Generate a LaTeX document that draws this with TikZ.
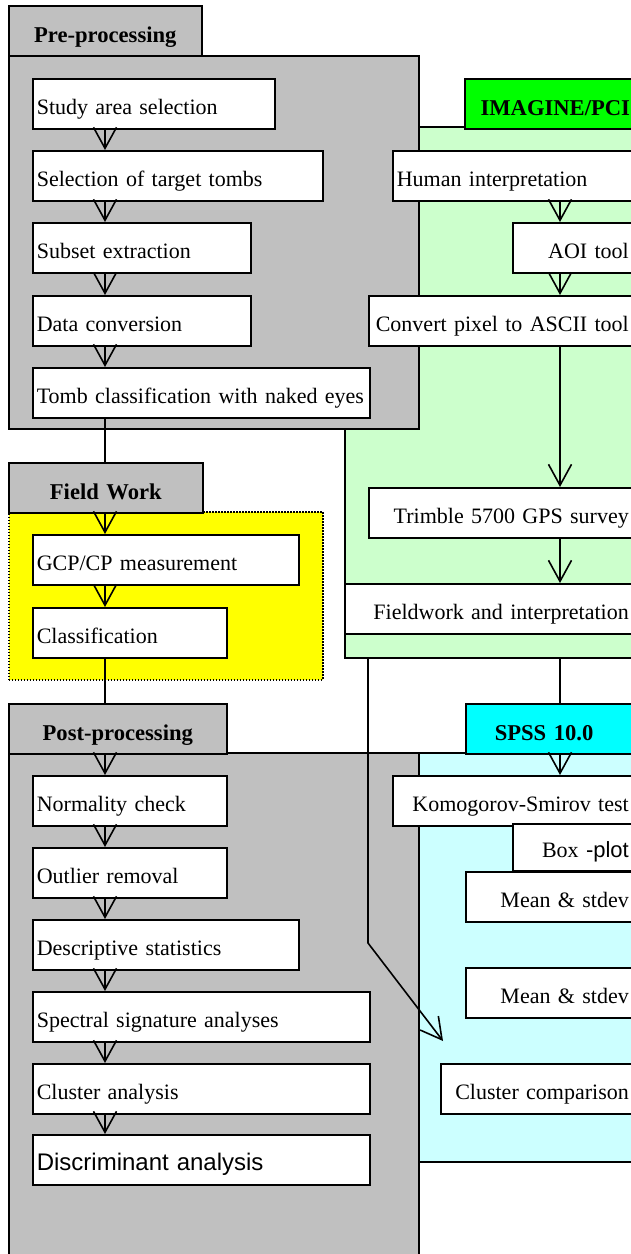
\documentclass[tikz,border=0pt]{standalone}
\usepackage{fontspec}
\setmainfont{Liberation Serif}
\setsansfont{Liberation Sans}
\usetikzlibrary{arrows.meta}

\definecolor{panelgrey}{HTML}{C0C0C0}
\definecolor{imgback}{HTML}{CCFFCC}
\definecolor{imgtab}{HTML}{00FF00}
\definecolor{spssback}{HTML}{CCFFFF}
\definecolor{spsstab}{HTML}{00FFFF}
\definecolor{fieldback}{HTML}{FFFF00}

\begin{document}
\begin{tikzpicture}[x=1pt, y=-1pt, line width=1.6pt,
    font=\fontsize{22}{26}\selectfont,
    area/.style={draw, anchor=north west, inner sep=0pt},
    tab/.style={draw, anchor=north west, font=\fontsize{22.6}{26}\selectfont\bfseries,
        inner xsep=0pt, inner ysep=2pt, minimum height=50pt, text height=26pt, text depth=3pt,
        text width=#1, align=center},
    stepbox/.style={draw, fill=white, anchor=north west, inner xsep=4pt, inner ysep=2pt,
        minimum height=50pt, text height=25pt, text depth=4pt, text width=#1, align=left},
    rbox/.style={stepbox=#1, align=right},
    flow/.style={-{Straight Barb[length=21pt,width=23pt]}}]

\path[use as bounding box] (0,0) rectangle (631,1254);
\clip (0,0) rectangle (631,1254);

% panels
\node[area, fill=imgback, minimum width=360pt, minimum height=531pt] (imgArea) at (344,126) {};
\node[area, fill=spssback, minimum width=300pt, minimum height=409pt] (spssArea) at (400,752) {};
\node[tab=181pt, fill=imgtab] (imgTab) at (464,78) {IMAGINE/PCI};
\node[tab=140pt, fill=spsstab, align=left, inner xsep=29pt] (spssTab) at (465,703) {SPSS 10.0};
\node[area, fill=panelgrey, minimum width=410pt, minimum height=373pt] (preArea) at (8,55) {};
\node[area, fill=panelgrey, minimum width=410pt, minimum height=600pt] (postArea) at (8,752) {};
\node[area, fill=fieldback, dash pattern=on 1.6pt off 1.4pt, minimum width=314pt, minimum height=168pt] (fieldArea) at (8,511) {};
\node[tab=193pt, fill=panelgrey] (preTab) at (8,5) {Pre-processing};
\node[tab=194pt, fill=panelgrey] (fieldTab) at (8,462) {Field Work};
\node[tab=218pt, fill=panelgrey] (postTab) at (8,703) {Post-processing};

% left column
\node[stepbox=234pt] (study) at (32,78) {Study area selection};
\node[stepbox=282pt] (sel) at (32,150) {Selection of target tombs};
\node[stepbox=210pt] (subset) at (32,222) {Subset extraction};
\node[stepbox=210pt] (data) at (32,295) {Data conversion};
\node[stepbox=329pt] (tomb) at (32,367) {Tomb classification with naked eyes};
\node[stepbox=258pt] (gcp) at (32,534) {GCP/CP measurement};
\node[stepbox=186pt] (cls) at (32,607) {Classification};
\node[stepbox=186pt] (norm) at (32,775) {Normality check};
\node[stepbox=186pt] (outl) at (32,847) {Outlier removal};
\node[stepbox=258pt] (desc) at (32,919) {Descriptive statistics};
\node[stepbox=329pt] (spec) at (32,991) {Spectral signature analyses};
\node[stepbox=329pt] (clus) at (32,1063) {Cluster analysis};
\node[stepbox=329pt, font=\fontsize{24}{28}\selectfont\sffamily] (disc) at (32,1134) {Discriminant analysis};

% right column
\node[stepbox=232pt] (human) at (392,150) {Human interpretation};
\node[rbox=112pt] (aoi) at (512,222) {AOI tool};
\node[rbox=256pt] (conv) at (368,295) {Convert pixel to ASCII tool};
\node[rbox=256pt] (trim) at (368,487) {Trimble 5700 GPS survey};
\node[rbox=280pt] (fw) at (344,583) {Fieldwork and interpretation};
\node[rbox=232pt] (ks) at (392,775) {Komogorov-Smirov test};
\node[rbox=112pt, minimum height=47pt] (boxp) at (512,823) {Box {\sffamily -plot}};
\node[rbox=159pt] (mean1) at (465,871) {Mean \& stdev};
\node[rbox=159pt] (mean2) at (465,967) {Mean \& stdev};
\node[rbox=184pt] (cc) at (440,1063) {Cluster comparison};

% connectors
\coordinate (lx) at (105,0);
\coordinate (rx) at (560,0);
\coordinate (dx) at (368,0);
\coordinate (bend) at (368,943);

\foreach \a/\b in {study/sel, sel/subset, subset/data, data/tomb, fieldTab/gcp, gcp/cls,
    postTab/norm, norm/outl, outl/desc, desc/spec, spec/clus, clus/disc}
  \draw[flow] (\a.south -| lx) -- (\b.north -| lx);
\draw (tomb.south -| lx) -- (fieldTab.north -| lx);
\draw (cls.south -| lx) -- (postTab.north -| lx);

\foreach \a/\b in {human/aoi, aoi/conv, conv/trim, trim/fw, spssTab/ks}
  \draw[flow] (\a.south -| rx) -- (\b.north -| rx);
\draw (imgArea.south -| rx) -- (spssTab.north -| rx);
\draw[flow] (imgArea.south -| dx) -- (bend) -- ([shift={(3,-22)}]cc.north west);

\end{tikzpicture}
\end{document}
